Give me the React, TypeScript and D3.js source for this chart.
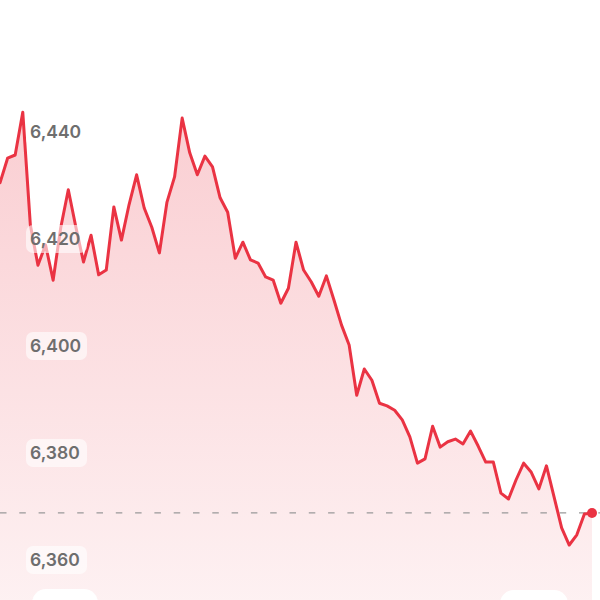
import React from "react";
import * as d3 from "d3";

const prices: number[] = [
  6430.5, 6435.1, 6435.7, 6443.7, 6422.6, 6415.1, 6418.9, 6412.3, 6422.1, 6429.2,
  6422.2, 6415.7, 6420.7, 6413.3, 6414.2, 6426.0, 6419.8, 6426.4, 6432.0, 6425.8,
  6422.2, 6417.4, 6426.9, 6431.6, 6442.6, 6436.1, 6432.0, 6435.5, 6433.5, 6427.7,
  6425.0, 6416.4, 6419.4, 6416.1, 6415.5, 6412.9, 6412.3, 6408.0, 6410.8, 6419.4,
  6414.2, 6412.0, 6409.3, 6413.1, 6408.6, 6403.9, 6400.2, 6390.8, 6395.7, 6393.6,
  6389.3, 6388.8, 6388.0, 6386.2, 6383.0, 6378.1, 6378.9, 6385.0, 6381.1, 6382.1,
  6382.6, 6381.7, 6384.1, 6381.3, 6378.3, 6378.3, 6372.5, 6371.4, 6375.0, 6378.1,
  6376.4, 6373.3, 6377.6, 6371.8, 6366.0, 6362.8, 6364.7, 6368.6, 6368.8,
];

const yTicks: number[] = [6440, 6420, 6400, 6380, 6360];
const referencePrice = 6368.8;

const W = 600;
const H = 600;
const RED = "#ea3343";

export default function App() {
  const x = d3.scaleLinear().domain([0, prices.length - 1]).range([0, 592]);
  const y = d3.scaleLinear().domain([6360, 6440]).range([560, 132]);

  const line = d3
    .line<number>()
    .x((_, i) => x(i))
    .y((d) => y(d));
  const area = d3
    .area<number>()
    .x((_, i) => x(i))
    .y0(H)
    .y1((d) => y(d));

  const maxY = y(d3.max(prices) as number);
  const fmt = d3.format(",");
  const last = prices.length - 1;

  return (
    <svg
      width={W}
      height={H}
      style={{ position: "fixed", left: 0, top: 0, background: "#fff" }}
    >
      <defs>
        <linearGradient id="fillGrad" gradientUnits="userSpaceOnUse" x1={0} x2={0} y1={maxY} y2={H}>
          <stop offset="0%" stopColor={RED} stopOpacity={0.24} />
          <stop offset="100%" stopColor={RED} stopOpacity={0.07} />
        </linearGradient>
      </defs>
      <path d={area(prices) || ""} fill="url(#fillGrad)" />
      <line
        x1={0}
        x2={W}
        y1={y(referencePrice)}
        y2={y(referencePrice)}
        stroke="#999999"
        strokeWidth={1.4}
        strokeDasharray="6.5 12.8"
      />
      <path
        d={line(prices) || ""}
        fill="none"
        stroke={RED}
        strokeWidth={3}
        strokeLinejoin="round"
        strokeLinecap="round"
      />
      <circle cx={x(last)} cy={y(prices[last])} r={5} fill={RED} />
      {yTicks.map((t) => (
        <g key={t} transform={`translate(0,${y(t)})`}>
          <rect x={26} y={-14} width={61} height={28} rx={7} fill="#ffffff" fillOpacity={0.6} />
          <text
            x={30}
            y={0}
            dy="0.36em"
            fill="#6e6e6e"
            fontFamily="Inter, 'Open Sans', sans-serif"
            fontWeight={600}
            fontSize={17.5}
          >
            {fmt(t)}
          </text>
        </g>
      ))}
      <rect x={32} y={589} width={66} height={30} rx={14} fill="#ffffff" />
      <rect x={500} y={590} width={68} height={30} rx={14} fill="#ffffff" />
    </svg>
  );
}
